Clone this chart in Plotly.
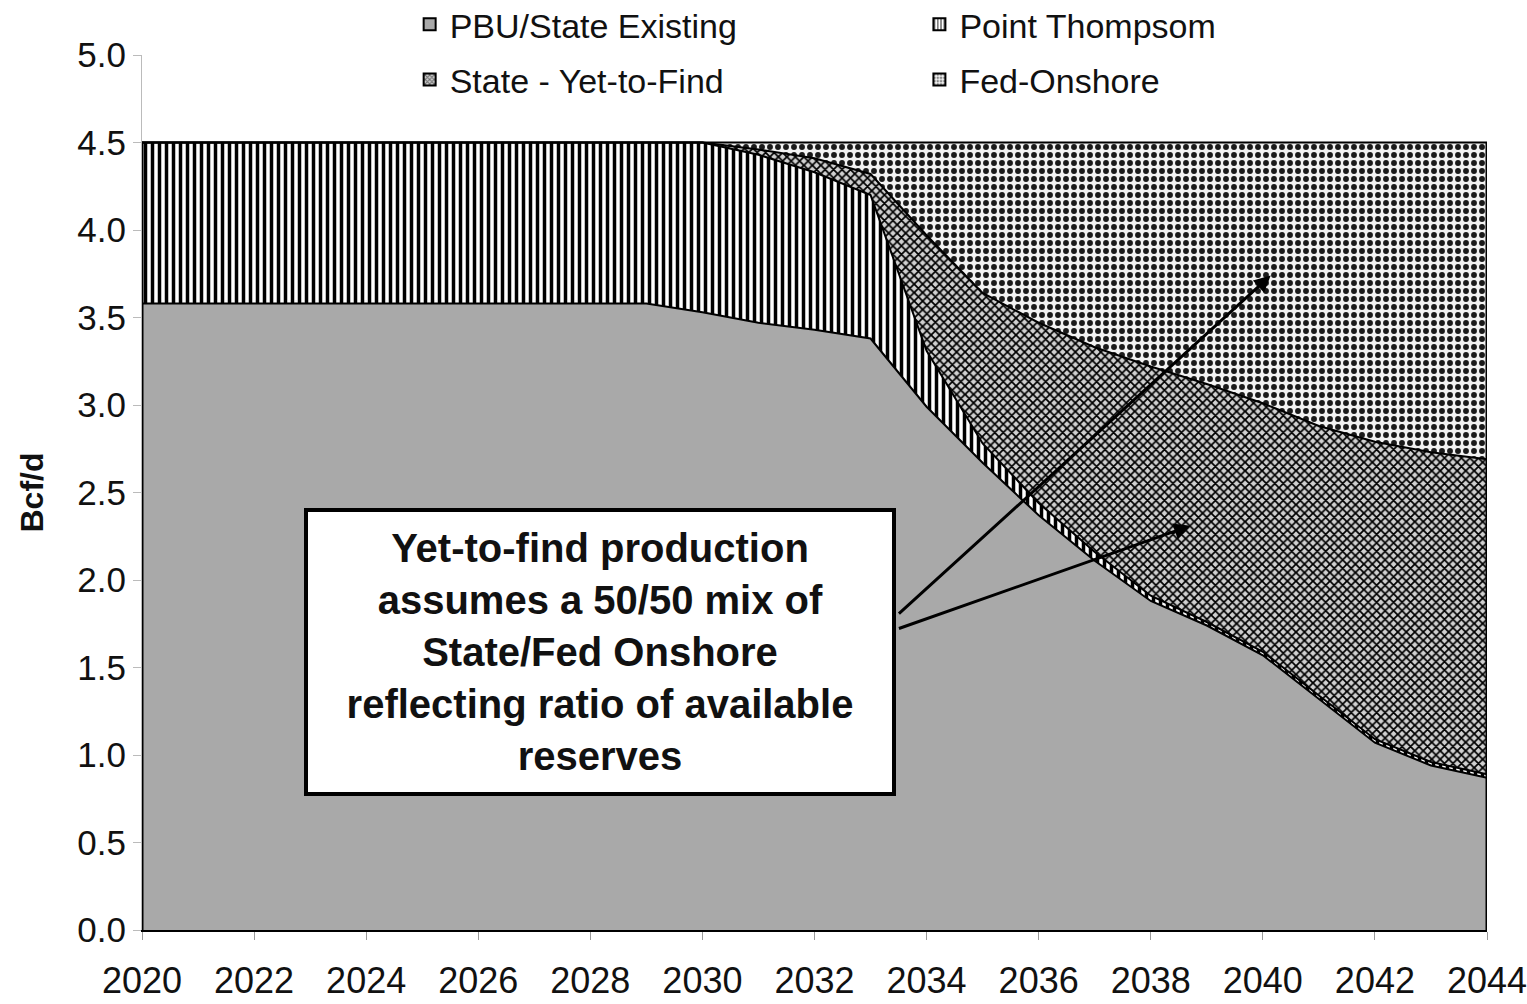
import plotly.graph_objects as go

years = list(range(2020, 2045))
pbu_existing = [3.58, 3.58, 3.58, 3.58, 3.58, 3.58, 3.58, 3.58, 3.58, 3.58,
                3.53, 3.47, 3.43, 3.38, 2.99, 2.67, 2.37, 2.11, 1.88, 1.74,
                1.57, 1.32, 1.07, 0.94, 0.87]
point_thomson = [0.92, 0.92, 0.92, 0.92, 0.92, 0.92, 0.92, 0.92, 0.92, 0.92,
                 0.97, 0.96, 0.90, 0.82, 0.32, 0.11, 0.07, 0.05, 0.03, 0.02,
                 0.02, 0.02, 0.02, 0.02, 0.02]
state_ytf = [0, 0, 0, 0, 0, 0, 0, 0, 0, 0,
             0, 0.03, 0.08, 0.12, 0.66, 0.86, 1.03, 1.17, 1.31, 1.36,
             1.42, 1.54, 1.70, 1.77, 1.80]
fed_onshore = [0, 0, 0, 0, 0, 0, 0, 0, 0, 0,
               0, 0.04, 0.09, 0.18, 0.53, 0.86, 1.03, 1.17, 1.28, 1.38,
               1.49, 1.62, 1.71, 1.77, 1.81]

names = ["PBU/State Existing", "Point Thompsom", "State - Yet-to-Find", "Fed-Onshore"]
note = ("Yet-to-find production<br>assumes a 50/50 mix of<br>State/Fed Onshore<br>"
        "reflecting ratio of available<br>reserves")

FONT = "Liberation Sans, Arial, sans-serif"

fig = go.Figure()
series = [pbu_existing, point_thomson, state_ytf, fed_onshore]
patterns = [
    None,
    dict(shape="|", fgcolor="#000000", bgcolor="#ffffff", size=7, solidity=0.5),
    dict(shape="x", fgcolor="#000000", bgcolor="#d0d0d0", size=6, solidity=0.5),
    dict(shape=".", fgcolor="#1a1a1a", bgcolor="#f2f2f2", size=8, solidity=0.42),
]
solid = "#a9a9a9"
legend_ids = ["legend", "legend2", "legend", "legend2"]
for i, (nm, vals, pat) in enumerate(zip(names, series, patterns)):
    kw = dict(fillcolor=solid) if pat is None else dict(
        fillpattern=dict(fillmode="replace", **pat))
    fig.add_trace(go.Scatter(
        x=years, y=vals, name=nm, mode="lines", stackgroup="one",
        line=dict(color="#000000", width=2), showlegend=False, **kw))

# legend swatches (square keys)
for i, (nm, pat) in enumerate(zip(names, patterns)):
    mk = dict(color=solid, line=dict(color="#000", width=2))
    if pat is not None:
        mk = dict(color=pat["bgcolor"], line=dict(color="#000", width=2),
                  pattern=dict(shape=pat["shape"], fgcolor=pat["fgcolor"],
                               bgcolor=pat["bgcolor"], size=4,
                               solidity=pat["solidity"]))
    fig.add_trace(go.Bar(x=[None], y=[None], name=nm, marker=mk,
                         legend=legend_ids[i], legendgroup=nm, showlegend=True))

totals = [sum(v) for v in zip(*series)]
# area left/right outline
fig.add_shape(type="line", x0=years[0], x1=years[0], y0=0, y1=totals[0],
              line=dict(color="#000", width=3))
fig.add_shape(type="line", x0=years[-1], x1=years[-1], y0=0, y1=totals[-1],
              line=dict(color="#000", width=3))

# text box
fig.add_annotation(xref="paper", yref="paper", x=0.3405, y=0.318,
                   xanchor="center", yanchor="middle", text=f"<b>{note}</b>",
                   showarrow=False, font=dict(family=FONT, size=40, color="#111"),
                   bgcolor="#ffffff", bordercolor="#000000", borderwidth=4,
                   width=582, height=278, align="center")
# arrows
for hx, hy, ty in [(2040.14, 3.74, 1.80), (2038.71, 2.31, 1.72)]:
    fig.add_annotation(x=hx, y=hy, ax=2033.48, ay=ty,
                       xref="x", yref="y", axref="x", ayref="y", text="",
                       showarrow=True, arrowhead=2, arrowsize=1.1,
                       arrowwidth=3, arrowcolor="#000")

leg_common = dict(yref="container", y=0.948, xanchor="left", yanchor="middle",
                  orientation="v", traceorder="grouped", tracegroupgap=8,
                  font=dict(size=34, family=FONT), bgcolor="rgba(0,0,0,0)",
                  itemwidth=30)
fig.update_layout(
    width=1527, height=1004,
    margin=dict(l=142, r=40, t=55, b=74, autoexpand=False),
    paper_bgcolor="#ffffff", plot_bgcolor="#ffffff",
    font=dict(family=FONT, color="#111"),
    showlegend=True, barmode="overlay",
    legend=dict(x=0.199, **leg_common),
    legend2=dict(x=0.578, **leg_common),
    xaxis=dict(range=[2020, 2044], dtick=2, tick0=2020, showgrid=False,
               zeroline=False, showline=True, linecolor="#000", linewidth=2,
               ticks="outside", ticklen=8, tickcolor="#999", automargin=False,
               ticklabeloverflow="allow",
               tickfont=dict(size=36, family=FONT), ticklabelstandoff=10),
    yaxis=dict(range=[0, 5], dtick=0.5, tick0=0, tickformat=".1f",
               showgrid=False, zeroline=False, showline=True, automargin=False,
               linecolor="#bbbbbb", linewidth=1, ticks="outside", ticklen=8,
               tickcolor="#bbbbbb", tickfont=dict(size=35, family=FONT),
               title=dict(text="<b>Bcf/d</b>", font=dict(size=32, family=FONT),
                          standoff=24)),
)

fig.write_html("out.html")
